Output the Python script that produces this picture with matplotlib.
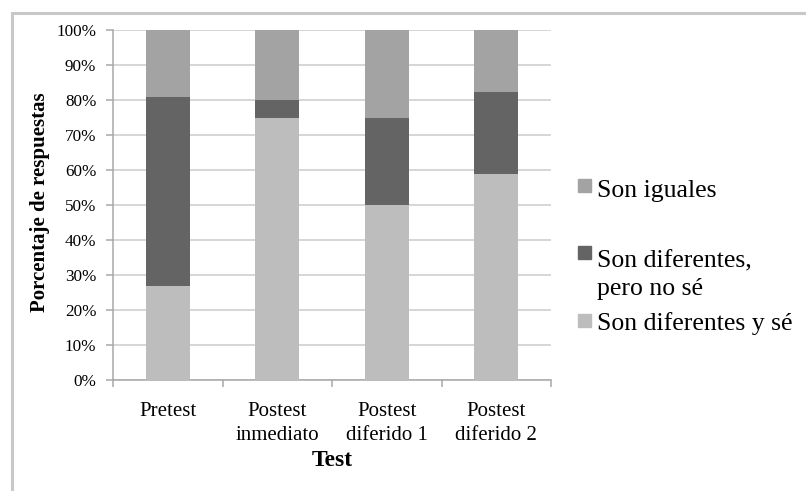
import numpy as np
import matplotlib
matplotlib.use('Agg')
import matplotlib.pyplot as plt
from matplotlib.patches import Rectangle

plt.rcParams['font.family'] = ['Liberation Serif', 'DejaVu Serif']

# Datos (porcentaje de respuestas)
categorias = ['Pretest', 'Postest\ninmediato', 'Postest\ndiferido 1', 'Postest\ndiferido 2']
dif_y_se = [27, 75, 50, 58.8]
dif_no_se = [54, 5, 25, 23.5]
iguales = [19, 20, 25, 17.7]

series = ['Son iguales', 'Son diferentes,\npero no sé', 'Son diferentes y sé']
colores = ['#a3a3a3', '#646464', '#bdbdbd']

W, H = 806, 491
fig = plt.figure(figsize=(W / 100, H / 100), dpi=100)
ax = fig.add_axes([113 / W, 1 - 380 / H, (551 - 113) / W, (380 - 30) / H])

x = np.arange(len(categorias))
ancho = 0.405
ax.bar(x, dif_y_se, ancho, color=colores[2], zorder=3)
ax.bar(x, dif_no_se, ancho, bottom=dif_y_se, color=colores[1], zorder=3)
base2 = np.array(dif_y_se) + np.array(dif_no_se)
ax.bar(x, iguales, ancho, bottom=base2, color=colores[0], zorder=3)

ax.set_xlim(-0.5, len(categorias) - 0.5)
ax.set_ylim(0, 100)
ax.set_yticks(np.arange(0, 101, 10))
ax.set_yticklabels([f'{v}%' for v in range(0, 101, 10)], fontsize=12.3)
ax.yaxis.grid(True, color='#cccccc', linewidth=1.1, zorder=0)

# ticks en los limites de categoria, etiquetas centradas
ax.set_xticks(np.arange(-0.5, len(categorias), 1))
ax.set_xticklabels([])
ax.set_xticks(x, minor=True)
ax.set_xticklabels(categorias, minor=True, fontsize=15, linespacing=1.37, va='top')
ax.tick_params(axis='x', which='minor', length=0, pad=16)
ax.tick_params(axis='x', which='major', length=5, width=1.1, color='#a8a8a8')
ax.tick_params(axis='y', length=5, width=1.1, color='#a8a8a8', pad=7)

for s in ['top', 'right']:
    ax.spines[s].set_visible(False)
for s in ['left', 'bottom']:
    ax.spines[s].set_color('#a8a8a8')
    ax.spines[s].set_linewidth(1.1)

fig.text(332 / W, 1 - 460 / H, 'Test', fontsize=17, fontweight='bold', ha='center', va='center')
fig.text(40 / W, 1 - 202 / H, 'Porcentaje de respuestas', fontsize=15, fontweight='bold',
         rotation=90, ha='center', va='center')

# leyenda (linea base de la ultima linea de cada texto)
sq_y = [185.5, 252, 320]
txt_y = [197, 295, 330]
for lab, col, sy, ty in zip(series, colores, sq_y, txt_y):
    fig.patches.append(Rectangle((578 / W, 1 - (sy + 6.5) / H), 13 / W, 13 / H,
                                 transform=fig.transFigure, color=col))
    fig.text(597 / W, 1 - ty / H, lab, fontsize=18.5, ha='left', va='baseline', linespacing=1.3)

# marco del grafico
fig.patches.append(Rectangle((12 / W, -0.05), 1.2, 1 - 13 / H + 0.05, transform=fig.transFigure,
                             fill=False, edgecolor='#c8c8c8', linewidth=2.2))

fig.savefig('out.png', dpi=100)
